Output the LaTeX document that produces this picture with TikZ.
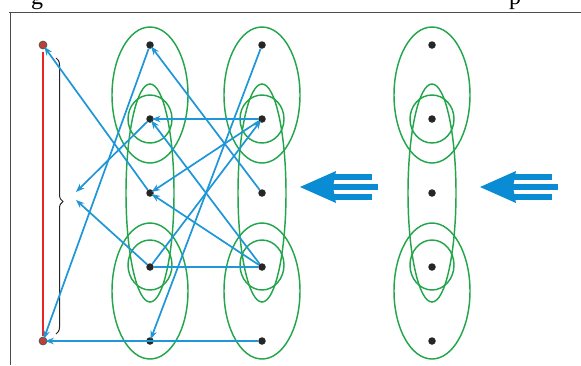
\documentclass[tikz,border=0pt]{standalone}
\usepackage{fontspec}
\setmainfont{Liberation Serif}
\usetikzlibrary{arrows.meta,decorations.pathreplacing}
\definecolor{lblue}{RGB}{30,150,215}
\definecolor{bblue}{RGB}{10,140,212}
\definecolor{egreen}{RGB}{35,165,75}
\definecolor{redline}{RGB}{232,40,30}
\definecolor{reddot}{RGB}{185,65,55}
\begin{document}
\begin{tikzpicture}[x=1pt,y=-1pt,
  dotn/.style={circle,fill=black!85,inner sep=0pt,minimum size=7.5pt},
  rdotn/.style={circle,fill=reddot,draw=black!70,line width=0.6pt,inner sep=0pt,minimum size=8pt},
  ell/.style={draw=egreen,line width=1.45pt},
  link/.style={draw=lblue,line width=1.7pt},
  arr/.style={link,-{Stealth[length=8.5pt,width=6.5pt]},shorten >=-2pt},
  bigarr/.style={fill=bblue,draw=none},
  frame/.style={draw=black!70,line width=0.9pt}]
\useasboundingbox (0,0) rectangle (581,365);
\fill[white] (0,0) rectangle (581,365);
% caption fragments
\node[font=\fontsize{24}{24}\selectfont,anchor=base,inner sep=0pt] (tg) at (37,4) {g};
\node[font=\fontsize{24}{24}\selectfont,anchor=base,inner sep=0pt] (tp) at (515,4) {p};
% frame
\draw[frame] (9,12) -- (581,12);
\draw[frame] (10,12) -- (10,365);
% ellipses
\foreach \cx in {150,262,432}{
  \draw[ell] (\cx,95) ellipse [x radius=38,y radius=68];
  \draw[ell] (\cx,291) ellipse [x radius=38,y radius=68];
  \draw[ell] (\cx,193) ellipse [x radius=24,y radius=109];
  \draw[ell] (\cx,119) ellipse [x radius=22,y radius=24];
  \draw[ell] (\cx,265) ellipse [x radius=22,y radius=25];
}
% left red line and brace
\draw[redline,line width=2.6pt] (43,52) -- (43,336);
\draw[black!85,line width=1pt,decorate,decoration={brace,amplitude=7pt,aspect=0.52}] (56,58) -- (56,334);
\coordinate (bt1) at (76,192);
\coordinate (bt2) at (76,200);
% dots
\node[rdotn] (L1) at (43,45) {};
\node[rdotn] (L5) at (43,341) {};
\foreach \r/\y in {1/45,2/119,3/193,4/267,5/341}{
  \node[dotn] (a\r) at (150,\y) {};
  \node[dotn] (b\r) at (262,\y) {};
  \node[dotn] (c\r) at (432,\y) {};
}
% blue connectors
\draw[arr] (a3) -- (L1);
\draw[arr] (b3) -- (a1);
\draw[arr] (b1) -- (a5);
\draw[arr] (b2) -- (a2);
\draw[arr] (b2) -- (a3);
\draw[arr] (a4) -- (b2);
\draw[arr,shorten >=0pt] (a2) -- (bt1);
\draw[arr,shorten >=0pt] (a4) -- (bt2);
\draw[arr] (b4) -- (a2);
\draw[arr] (b4) -- (a3);
\draw[link] (a4) -- (b4);
\draw[arr] (a1) -- (L5);
\draw[arr] (b5) -- (L5);
% big arrows
\foreach \x in {300,480}{
  \fill[bigarr] (\x,187) -- (\x+36,171) -- (\x+33,187) -- (\x+36,203) -- cycle;
  \fill[bigarr] (\x+30,174) rectangle (\x+72,180);
  \fill[bigarr] (\x+30,184) rectangle (\x+78,190);
  \fill[bigarr] (\x+30,194) rectangle (\x+72,200);
}
\end{tikzpicture}
\end{document}
